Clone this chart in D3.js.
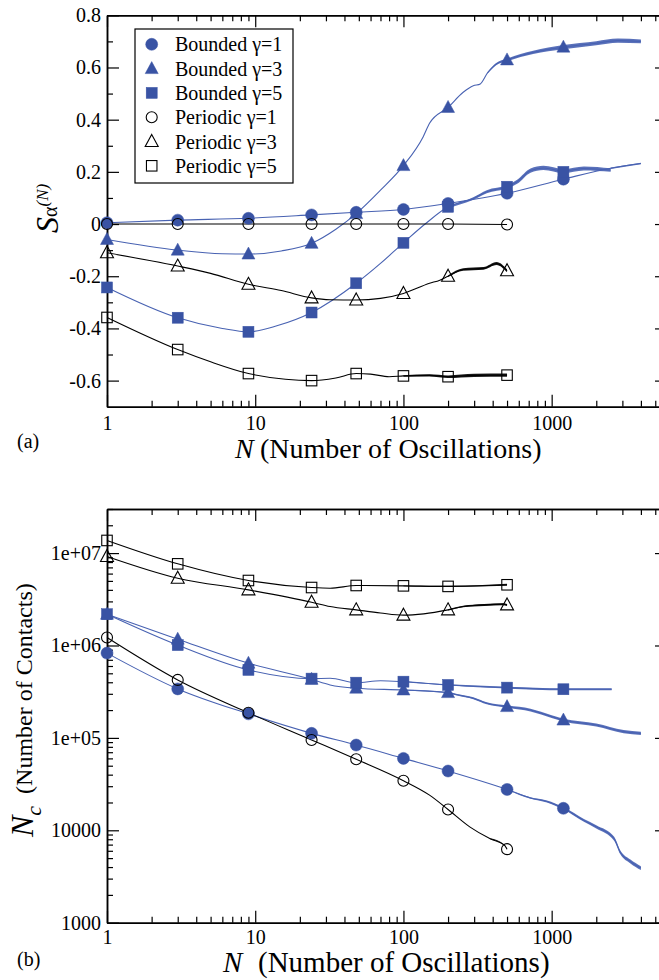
<!DOCTYPE html>
<html>
<head>
<meta charset="utf-8">
<script src="https://cdn.jsdelivr.net/npm/d3@7"></script>
<style>
  html, body { margin: 0; padding: 0; background: #fff; }
  svg { display: block; }
  svg text { font-family: "Liberation Serif", "Times New Roman", Times, serif; }
</style>
</head>
<body>
<svg id="chart" width="659" height="980"></svg>
<script>
// ── Ticks ─────────────────────────────────────────────────────────────────────
const xTicksMajor = [1, 10, 100, 1000];
const xTickLabels = ['1', '10', '100', '1000'];
const xTicksMinor = [2, 3, 4, 5, 6, 7, 8, 9, 20, 30, 40, 50, 60, 70, 80, 90,
                     200, 300, 400, 500, 600, 700, 800, 900, 2000, 3000, 4000, 5000, 6000];

const topYMajor = [-0.6, -0.4, -0.2, 0, 0.2, 0.4, 0.6, 0.8];
const topYLabels = ['-0.6', '-0.4', '-0.2', '0', '0.2', '0.4', '0.6', '0.8'];
const topYMinor = [-0.5, -0.3, -0.1, 0.1, 0.3, 0.5, 0.7];

const botYMajor = [1e3, 1e4, 1e5, 1e6, 1e7];
const botYLabels = ['1000', '10000', '1e+05', '1e+06', '1e+07'];
const botYMinor = [2e3, 3e3, 4e3, 5e3, 6e3, 7e3, 8e3, 9e3, 2e4, 3e4, 4e4, 5e4, 6e4, 7e4, 8e4, 9e4,
                   2e5, 3e5, 4e5, 5e5, 6e5, 7e5, 8e5, 9e5, 2e6, 3e6, 4e6, 5e6, 6e6, 7e6, 8e6, 9e6, 2e7, 3e7];

// ── Series labels ─────────────────────────────────────────────────────────────
const seriesNames = ['Bounded γ=1', 'Bounded γ=3', 'Bounded γ=5',
                     'Periodic γ=1', 'Periodic γ=3', 'Periodic γ=5'];

// N values where symbols sit
const markerN = [1, 3, 9, 24, 48, 100, 200, 500, 1200];

// ── (a) S_alpha(N): symbol values ─────────────────────────────────────────────
const topBoundedG1  = [0.005, 0.015, 0.022, 0.035, 0.045, 0.056, 0.079, 0.118, 0.172];
const topBoundedG3  = [-0.059, -0.10, -0.115, -0.074, 0.04, 0.224, 0.447, 0.629, 0.678];
const topBoundedG5  = [-0.243, -0.359, -0.413, -0.339, -0.227, -0.072, 0.066, 0.143, 0.20];
const topPeriodicG1 = [0, 0, 0, 0, 0, 0, 0, -0.002];
const topPeriodicG3 = [-0.11, -0.161, -0.231, -0.283, -0.291, -0.266, -0.20, -0.179];
const topPeriodicG5 = [-0.358, -0.481, -0.573, -0.60, -0.573, -0.582, -0.585, -0.579];

// ── (a) traces: [N, value, fluctuation half-width] ───────────────────────────
const topTraceBoundedG1 = [[1, 0.005, 0], [3, 0.015, 0], [9, 0.022, 0], [24, 0.035, 0], [48, 0.045, 0],
  [100, 0.056, 0], [200, 0.079, 0], [500, 0.118, 0], [1200, 0.172, 0], [2500, 0.214, 0.003], [4000, 0.232, 0.003]];
const topTraceBoundedG3 = [[1, -0.059, 0], [3, -0.10, 0], [6, -0.114, 0], [9, -0.115, 0], [15, -0.103, 0],
  [24, -0.074, 0], [35, -0.02, 0], [48, 0.04, 0], [70, 0.13, 0], [100, 0.224, 0], [136, 0.335, 0],
  [150, 0.386, 0], [200, 0.447, 0], [253, 0.505, 0], [296, 0.53, 0], [330, 0.537, 0], [370, 0.58, 0.003],
  [420, 0.612, 0.004], [500, 0.629, 0.005], [750, 0.658, 0.006], [1200, 0.678, 0.008], [2000, 0.693, 0.008],
  [2800, 0.703, 0.008], [4000, 0.70, 0.007]];
const topTraceBoundedG5 = [[1, -0.243, 0], [3, -0.359, 0], [6, -0.40, 0], [9, -0.413, 0], [14, -0.39, 0],
  [24, -0.339, 0], [48, -0.227, 0], [70, -0.151, 0], [100, -0.072, 0], [140, 0.0, 0], [200, 0.066, 0.004],
  [296, 0.098, 0.005], [365, 0.124, 0.006], [500, 0.143, 0.007], [585, 0.162, 0.008], [720, 0.205, 0.008],
  [880, 0.215, 0.008], [1200, 0.203, 0.008], [1650, 0.213, 0.008], [2500, 0.207, 0.007]];
const topTracePeriodicG1 = [[1, 0, 0], [3, 0, 0], [9, 0, 0], [24, 0, 0], [48, 0, 0], [100, 0, 0],
  [200, 0, 0], [500, -0.002, 0]];
const topTracePeriodicG3 = [[1, -0.11, 0], [3, -0.161, 0], [5, -0.189, 0], [9, -0.231, 0], [15, -0.255, 0],
  [24, -0.283, 0], [32, -0.29, 0], [48, -0.291, 0], [70, -0.285, 0], [100, -0.266, 0], [150, -0.227, 0],
  [176, -0.215, 0], [200, -0.20, 0.003], [253, -0.174, 0.005], [347, -0.17, 0.005], [425, -0.151, 0.006],
  [500, -0.179, 0.006]];
const topTracePeriodicG5 = [[1, -0.358, 0], [3, -0.481, 0], [5, -0.528, 0], [9, -0.573, 0], [16, -0.595, 0],
  [24, -0.60, 0], [35, -0.59, 0], [48, -0.573, 0], [60, -0.575, 0], [80, -0.585, 0], [100, -0.582, 0.003],
  [150, -0.58, 0.004], [200, -0.585, 0.005], [300, -0.58, 0.006], [500, -0.579, 0.006]];

// ── (b) N_c: symbol values ────────────────────────────────────────────────────
const botBoundedG1  = [8.27e5, 3.39e5, 1.82e5, 1.12e5, 8.37e4, 6.0e4, 4.38e4, 2.77e4, 1.73e4];
const botBoundedG3  = [2.18e6, 1.17e6, 6.43e5, 4.3e5, 3.45e5, 3.3e5, 3.09e5, 2.18e5, 1.56e5];
const botBoundedG5  = [2.18e6, 1.01e6, 5.44e5, 4.38e5, 3.96e5, 4.06e5, 3.74e5, 3.5e5, 3.36e5];
const botPeriodicG1 = [1.22e6, 4.24e5, 1.87e5, 9.5e4, 5.87e4, 3.44e4, 1.68e4, 6250];
const botPeriodicG3 = [9.2e6, 5.35e6, 4.0e6, 2.94e6, 2.43e6, 2.13e6, 2.43e6, 2.75e6];
const botPeriodicG5 = [1.37e7, 7.65e6, 5.05e6, 4.24e6, 4.46e6, 4.42e6, 4.36e6, 4.54e6];

// ── (b) traces: [N, value, relative fluctuation] ─────────────────────────────
const botTraceBoundedG1 = [[1, 8.27e5, 0], [3, 3.39e5, 0], [9, 1.82e5, 0], [24, 1.12e5, 0], [48, 8.37e4, 0],
  [100, 6.0e4, 0], [200, 4.38e4, 0], [500, 2.77e4, 0.01], [720, 2.24e4, 0.02], [930, 2.05e4, 0.025],
  [1200, 1.73e4, 0.03], [1650, 1.28e4, 0.035], [2000, 1.09e4, 0.04], [2640, 8.1e3, 0.05],
  [2900, 5.8e3, 0.05], [3400, 4.6e3, 0.05], [4000, 3.9e3, 0.05]];
const botTraceBoundedG3 = [[1, 2.18e6, 0], [3, 1.17e6, 0], [9, 6.43e5, 0], [24, 4.3e5, 0], [32, 3.74e5, 0],
  [48, 3.45e5, 0], [100, 3.3e5, 0.01], [200, 3.09e5, 0.015], [230, 2.93e5, 0.02], [296, 2.69e5, 0.025],
  [365, 2.37e5, 0.025], [500, 2.18e5, 0.03], [720, 2.0e5, 0.035], [1000, 1.7e5, 0.035], [1200, 1.56e5, 0.035],
  [2000, 1.38e5, 0.04], [3060, 1.17e5, 0.04], [4000, 1.12e5, 0.04]];
const botTraceBoundedG5 = [[1, 2.18e6, 0], [3, 1.01e6, 0], [9, 5.44e5, 0], [24, 4.38e5, 0], [32, 4.42e5, 0],
  [48, 3.96e5, 0], [70, 4.15e5, 0], [100, 4.06e5, 0.01], [200, 3.74e5, 0.015], [500, 3.5e5, 0.025],
  [1200, 3.36e5, 0.025], [2540, 3.36e5, 0.025]];
const botTracePeriodicG1 = [[1, 1.22e6, 0], [3, 4.24e5, 0], [9, 1.87e5, 0], [24, 9.5e4, 0], [48, 5.87e4, 0],
  [100, 3.44e4, 0], [150, 2.4e4, 0], [200, 1.68e4, 0], [280, 1.09e4, 0], [385, 8.1e3, 0.01],
  [480, 6.9e3, 0.015], [500, 6250, 0.01]];
const botTracePeriodicG3 = [[1, 9.2e6, 0], [3, 5.35e6, 0], [9, 4.0e6, 0], [24, 2.94e6, 0], [32, 2.64e6, 0],
  [48, 2.43e6, 0], [70, 2.25e6, 0], [100, 2.13e6, 0], [137, 2.2e6, 0], [200, 2.43e6, 0.015],
  [253, 2.64e6, 0.02], [350, 2.75e6, 0.025], [470, 2.8e6, 0.025], [500, 2.75e6, 0.025]];
const botTracePeriodicG5 = [[1, 1.37e7, 0], [3, 7.65e6, 0], [9, 5.05e6, 0], [24, 4.24e6, 0], [32, 4.17e6, 0],
  [48, 4.46e6, 0], [100, 4.42e6, 0.01], [200, 4.36e6, 0.015], [500, 4.54e6, 0.025]];

// ── Style ─────────────────────────────────────────────────────────────────────
const FONT = '"Liberation Serif", "Times New Roman", Times, serif';
const BLUE = '#3953a4';
const BLUE_LINE = '#4862b2';
const shapes = ['circle', 'triangle', 'square', 'circle', 'triangle', 'square'];
const filled = [true, true, true, false, false, false];
const drawOrder = [1, 0, 2, 3, 4, 5];

const svg = d3.select('#chart');
const x = d3.scaleLog().domain([1, 6000]).range([107, 667]);
const yTop = d3.scaleLinear().domain([-0.7, 0.8]).range([406.7, 15.3]);
const yBot = d3.scaleLog().domain([1000, 3e7]).range([922.7, 509]);

function marker(g, i, cx, cy) {
  const col = filled[i] ? BLUE : '#000';
  const fill = filled[i] ? BLUE : 'none';
  let m;
  if (shapes[i] === 'circle') {
    m = g.append('circle').attr('cx', cx).attr('cy', cy).attr('r', filled[i] ? 6 : 5.5);
  } else if (shapes[i] === 'triangle') {
    m = g.append('path').attr('d', `M${cx},${cy - 7}L${cx + 6.5},${cy + 5}L${cx - 6.5},${cy + 5}Z`);
  } else {
    const s = filled[i] ? 11 : 10.5;
    m = g.append('rect').attr('x', cx - s / 2).attr('y', cy - s / 2).attr('width', s).attr('height', s);
  }
  m.attr('fill', fill).attr('stroke', col).attr('stroke-width', filled[i] ? 0.5 : 1.1);
}

// ── Axes ──────────────────────────────────────────────────────────────────────
function styleAxis(sel) {
  sel.attr('font-family', FONT).attr('font-size', 20);
  sel.select('.domain').attr('stroke', '#000').attr('stroke-width', 1.5);
  sel.selectAll('.tick line').attr('stroke', '#000').attr('stroke-width', 1.2);
  sel.selectAll('.tick text').attr('fill', '#000').style('font-family', FONT).style('font-size', '20px');
}

function addAxes(y, yMajor, yLabels, yMinor, xPad) {
  const [yb, yt] = y.range();
  const g = svg.append('g');
  const fx = d => xTickLabels[xTicksMajor.indexOf(d)];
  const fy = d => yLabels[yMajor.indexOf(d)];

  g.append('g').attr('transform', `translate(0,${yb})`)
    .call(d3.axisBottom(x).tickValues(xTicksMajor).tickFormat(fx).tickSizeInner(-12).tickSizeOuter(0).tickPadding(xPad))
    .call(styleAxis);
  g.append('g').attr('transform', `translate(0,${yb})`)
    .call(d3.axisBottom(x).tickValues(xTicksMinor).tickFormat('').tickSizeInner(-6).tickSizeOuter(0))
    .call(styleAxis);
  g.append('g').attr('transform', `translate(0,${yt})`)
    .call(d3.axisTop(x).tickValues(xTicksMajor).tickFormat('').tickSizeInner(-12).tickSizeOuter(0))
    .call(styleAxis);
  g.append('g').attr('transform', `translate(0,${yt})`)
    .call(d3.axisTop(x).tickValues(xTicksMinor).tickFormat('').tickSizeInner(-6).tickSizeOuter(0))
    .call(styleAxis);

  g.append('g').attr('transform', `translate(${x.range()[0]},0)`)
    .call(d3.axisLeft(y).tickValues(yMajor).tickFormat(fy).tickSizeInner(-12).tickSizeOuter(0).tickPadding(6))
    .call(styleAxis);
  g.append('g').attr('transform', `translate(${x.range()[0]},0)`)
    .call(d3.axisLeft(y).tickValues(yMinor).tickFormat('').tickSizeInner(-6).tickSizeOuter(0))
    .call(styleAxis);
  g.append('g').attr('transform', `translate(${x.range()[1]},0)`)
    .call(d3.axisRight(y).tickValues(yMajor).tickFormat('').tickSizeInner(-12).tickSizeOuter(0))
    .call(styleAxis);
  g.append('g').attr('transform', `translate(${x.range()[1]},0)`)
    .call(d3.axisRight(y).tickValues(yMinor).tickFormat('').tickSizeInner(-6).tickSizeOuter(0))
    .call(styleAxis);
}

// ── Series ────────────────────────────────────────────────────────────────────
function addSeries(y, traces, values, isLog) {
  const lines = svg.append('g');
  const marks = svg.append('g');
  const lo = d => isLog ? y(d[1] / (1 + d[2])) : y(d[1] - d[2]);
  const hi = d => isLog ? y(d[1] * (1 + d[2])) : y(d[1] + d[2]);

  drawOrder.forEach(i => {
    const col = filled[i] ? BLUE_LINE : '#000';
    const band = d3.area().defined(d => d[2] > 0)
      .x(d => x(d[0])).y0(lo).y1(hi).curve(d3.curveMonotoneX);
    lines.append('path').attr('d', band(traces[i]))
      .attr('fill', col).attr('opacity', 0.9);
    const line = d3.line().x(d => x(d[0])).y(d => y(d[1])).curve(d3.curveMonotoneX);
    lines.append('path').attr('d', line(traces[i]))
      .attr('fill', 'none').attr('stroke', col).attr('stroke-width', 1.1);
  });
  drawOrder.forEach(i => {
    values[i].forEach((v, k) => {
      if (v == null) return;
      marker(marks, i, x(markerN[k]), y(v));
    });
  });
}

// ── Panel (a) ─────────────────────────────────────────────────────────────────
addAxes(yTop, topYMajor, topYLabels, topYMinor, 9);
addSeries(yTop,
  [topTraceBoundedG1, topTraceBoundedG3, topTraceBoundedG5, topTracePeriodicG1, topTracePeriodicG3, topTracePeriodicG5],
  [topBoundedG1, topBoundedG3, topBoundedG5, topPeriodicG1, topPeriodicG3, topPeriodicG5], false);

// legend
const leg = svg.append('g');
leg.append('rect').attr('x', 135).attr('y', 29).attr('width', 158).attr('height', 154)
  .attr('fill', '#fff').attr('stroke', '#000').attr('stroke-width', 1.2);
seriesNames.forEach((name, i) => {
  const cy = 44.3 + i * 24.3;
  marker(leg, i, 151.7, cy);
  leg.append('text').attr('x', 175).attr('y', cy + 7).style('font-size', '20px').text(name);
});

// axis titles (a)
const xt1 = svg.append('text').attr('y', 457.7).style('font-size', '28px');
xt1.append('tspan').attr('x', 235).style('font-style', 'italic').text('N');
xt1.append('tspan').attr('x', 260).text('(Number of Oscillations)');

const yt1 = svg.append('text').attr('transform', 'translate(58,233) rotate(-90)');
yt1.append('tspan').style('font-size', '32px').style('font-style', 'italic').text('S');
yt1.append('tspan').style('font-size', '20px').attr('dy', -1).text('α');
yt1.append('tspan').style('font-size', '17px').style('font-style', 'italic').attr('dy', -9).text('(N)');

svg.append('text').attr('x', 17).attr('y', 448).style('font-size', '20px').text('(a)');

// ── Panel (b) ─────────────────────────────────────────────────────────────────
addAxes(yBot, botYMajor, botYLabels, botYMinor, 7);
addSeries(yBot,
  [botTraceBoundedG1, botTraceBoundedG3, botTraceBoundedG5, botTracePeriodicG1, botTracePeriodicG3, botTracePeriodicG5],
  [botBoundedG1, botBoundedG3, botBoundedG5, botPeriodicG1, botPeriodicG3, botPeriodicG5], true);

const xt2 = svg.append('text').attr('y', 972).style('font-size', '29px');
xt2.append('tspan').attr('x', 223).style('font-style', 'italic').text('N');
xt2.append('tspan').attr('x', 258).text('(Number of Oscillations)');

const yt2 = svg.append('text').attr('transform', 'translate(33,837) rotate(-90)');
yt2.append('tspan').style('font-size', '32px').style('font-style', 'italic').text('N');
yt2.append('tspan').style('font-size', '22px').style('font-style', 'italic').attr('dy', 8).text('c');
yt2.append('tspan').style('font-size', '24px').attr('dy', -9).attr('dx', 12).text('(Number of Contacts)');

svg.append('text').attr('x', 17).attr('y', 966).style('font-size', '20px').text('(b)');

svg.selectAll('text').style('font-family', FONT);
</script>
</body>
</html>
